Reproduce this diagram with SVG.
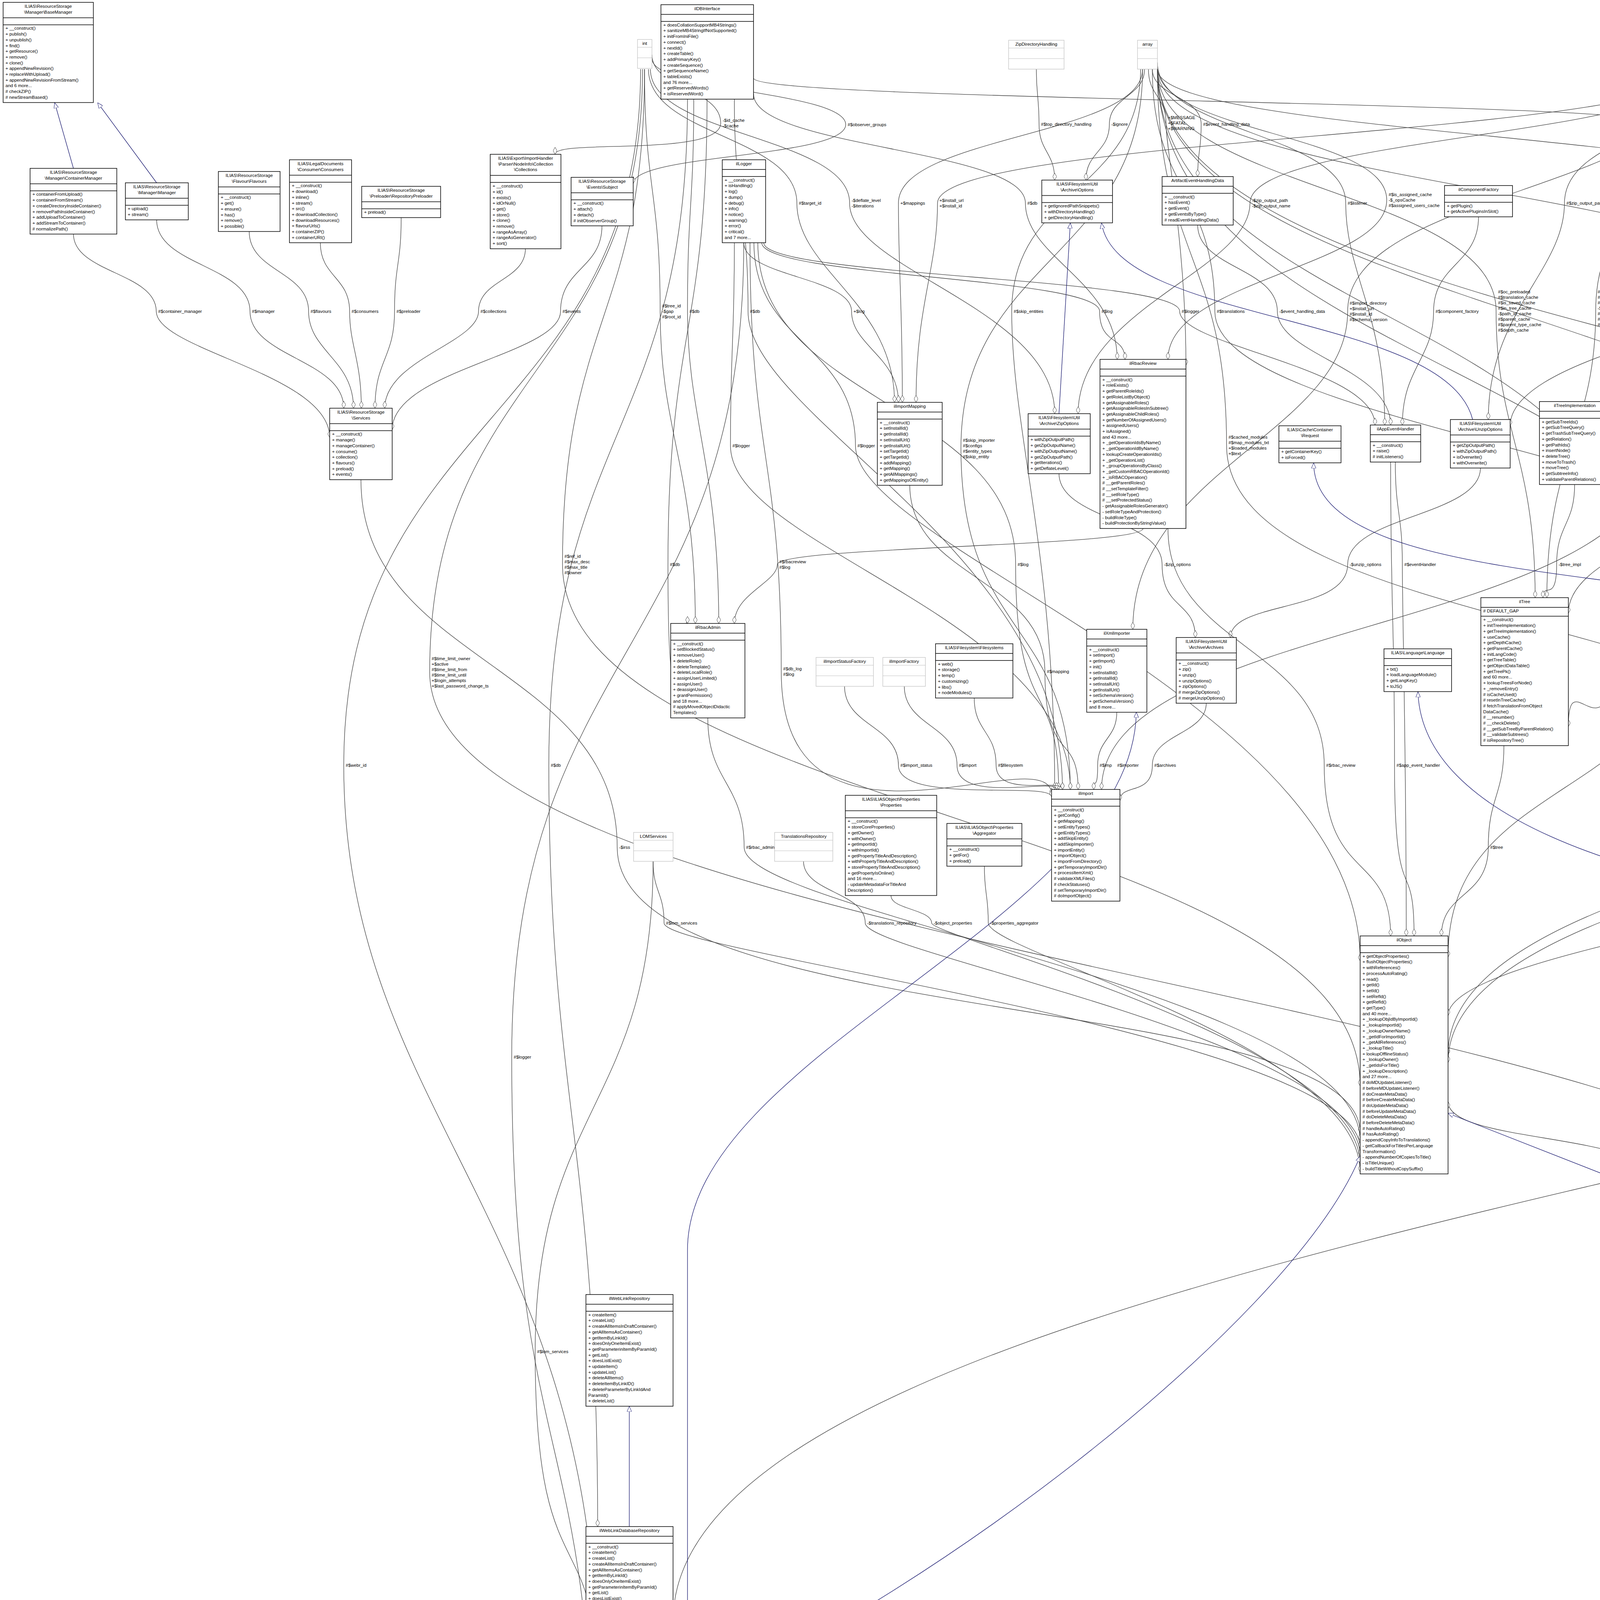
<svg xmlns="http://www.w3.org/2000/svg" width="7017" height="4623" viewBox="0 0 7017 4623">
<style>
text{font-family:"Liberation Sans",Arial,sans-serif;font-size:11.5px;fill:#000}
.c{text-anchor:middle}
.n rect{fill:#fff;stroke:#000;stroke-width:1.5}
.n path{stroke:#000;stroke-width:1.5;fill:none}
.g rect{fill:#fff;stroke:#bfbfbf;stroke-width:1.2}
.g path{stroke:#bfbfbf;stroke-width:1.2;fill:none}
.hl rect{fill:#bfbfbf}
#edges path{fill:none;stroke:#404040;stroke-width:1.3;marker-end:url(#dia)}
#edges path.i{stroke:#191970;marker-end:url(#tri)}
#edges path.p{marker-end:none}
</style>
<defs>
<marker id="dia" viewBox="0 0 18 10" refX="18" refY="5" markerWidth="18" markerHeight="10" markerUnits="userSpaceOnUse" orient="auto"><path d="M0,5 L9,0 L18,5 L9,10 Z" fill="#fff" stroke="#404040" stroke-width="1"/></marker>
<marker id="tri" viewBox="0 0 14 12" refX="14" refY="6" markerWidth="14" markerHeight="12" markerUnits="userSpaceOnUse" orient="auto"><path d="M0,0 L14,6 L0,12 Z" fill="#fff" stroke="#191970" stroke-width="1"/></marker>
</defs>
<rect x="0" y="0" width="7017" height="4623" fill="#fff"/>

<g id="edges">
<path d="M188,599 C188,698 400,698 400,797 S844,958 844,1120"/>
<path d="M401,563 C401,680 640,680 640,797 S880,921 880,1045"/>
<path d="M638,593 C638,695 790,695 790,797 S905,921 905,1045"/>
<path d="M820,621 C820,709 895,709 895,797 S925,921 925,1045"/>
<path d="M1027,557 C1027,677 1010,677 1010,797 S960,921 960,1045"/>
<path d="M1345,637 C1345,717 1225,717 1225,797 S985,921 985,1045"/>
<path d="M1541,578 C1541,687 1435,687 1435,797 S1004,948 1004,1100"/>
<path d="M1650,177 C1650,487 1690,487 1690,797 S1780,1196 1780,1596"/>
<path d="M1776,254 C1776,525 1760,525 1760,797 S1840,1196 1840,1596"/>
<path d="M1880,254 C1880,525 1915,525 1915,797 S2720,1409 2720,2021"/>
<path d="M1904,621 C1904,709 2180,709 2180,797 S2300,913 2300,1030"/>
<path d="M1880,621 C1880,881 1870,881 1870,1141 S2740,1581 2740,2021"/>
<path d="M1930,621 C1930,881 2190,881 2190,1141 S3482,1800 3482,2460"/>
<path d="M1669,140 C1669,227 1845,227 1845,315 S1421,355 1421,395"/>
<path d="M1669,150 C1669,234 2165,234 2165,319 S1621,394 1621,470"/>
<path d="M1660,177 C1660,348 2040,348 2040,520 S2290,775 2290,1030"/>
<path d="M1665,177 C1665,348 2175,348 2175,520 S2700,789 2700,1059"/>
<path d="M2925,177 C2925,348 2300,348 2300,520 S2310,775 2310,1030"/>
<path d="M4335,177 C4335,348 2400,348 2400,520 S2345,775 2345,1030"/>
<path d="M2653,177 C2653,247 2660,247 2660,318 S2700,389 2700,461"/>
<path d="M2930,177 C2930,247 2840,247 2840,318 S2780,389 2780,461"/>
<path d="M2940,177 C2940,246 2985,246 2985,315 S3036,625 3036,935"/>
<path d="M2950,177 C2950,247 3075,247 3075,318 S3066,385 3066,452"/>
<path d="M1929,200 C1929,259 4255,259 4255,318 S4923,374 4923,430"/>
<path d="M1929,240 C1929,380 2625,380 2625,520 S2860,720 2860,920"/>
<path d="M4340,177 C4340,348 3200,348 3200,520 S2760,789 2760,1059"/>
<path d="M2963,160 C2963,340 3445,340 3445,520 S3545,804 3545,1088"/>
<path d="M2963,170 C2963,341 3550,341 3550,512 S2990,716 2990,920"/>
<path d="M4350,177 C4350,348 4005,348 4005,520 S3810,797 3810,1074"/>
<path d="M4370,177 C4370,348 4550,348 4550,520 S4960,771 4960,1023"/>
<path d="M2920,177 C2920,487 2590,487 2590,797 S2700,1409 2700,2021"/>
<path d="M1950,621 C1950,709 2815,709 2815,797 S2880,858 2880,920"/>
<path d="M1955,621 C1955,709 3020,709 3020,797 S3520,942 3520,1088"/>
<path d="M2950,177 C2950,487 3110,487 3110,797 S4690,1185 4690,1574"/>
<path d="M3066,576 C3066,686 3270,686 3270,797 S3560,942 3560,1088"/>
<path d="M4340,177 C4340,487 3450,487 3450,797 S2900,1204 2900,1611"/>
<path d="M3785,555 C3785,676 3670,676 3670,797 S3590,942 3590,1088"/>
<path d="M2963,177 C2963,486 3830,486 3830,796 S3930,1163 3930,1530"/>
<path d="M4355,177 C4355,486 4085,486 4085,796 S3960,1163 3960,1530"/>
<path d="M4365,177 C4365,487 4520,487 4520,797 S4700,1185 4700,1574"/>
<path d="M2925,177 C2925,662 2460,662 2460,1148 S2740,1584 2740,2021"/>
<path d="M2963,177 C2963,658 3140,658 3140,1140 S4650,1573 4650,2007"/>
<path d="M4345,177 C4345,658 4240,658 4240,1140 S2820,1580 2820,2021"/>
<path d="M4380,177 C4380,658 4500,658 4500,1140 S4700,1573 4700,2007"/>
<path d="M4382,150 C4382,234 4690,234 4690,318 S4950,670 4950,1023"/>
<path d="M4382,160 C4382,239 4815,239 4815,318 S4923,384 4923,450"/>
<path d="M5112,177 C5112,247 4930,247 4930,318 S4935,352 4935,387"/>
<path d="M4382,170 C4382,244 5100,244 5100,318 S5203,369 5203,420"/>
<path d="M6206,160 C6206,239 5200,239 5200,318 S5260,341 5260,365"/>
<path d="M6210,177 C6210,247 5340,247 5340,318 S5320,341 5320,365"/>
<path d="M5555,177 C5555,247 5545,247 5545,318 S5407,349 5407,380"/>
<path d="M6549,160 C6549,239 5700,239 5700,318 S5407,354 5407,390"/>
<path d="M6560,177 C6560,247 5870,247 5870,317 S5407,358 5407,400"/>
<path d="M6570,177 C6570,247 6385,247 6385,318 S6217,369 6217,420"/>
<path d="M6590,177 C6590,247 6705,247 6705,318 S6775,510 6775,702"/>
<path d="M2963,177 C2963,348 4660,348 4660,520 S5150,746 5150,972"/>
<path d="M4382,177 C4382,348 4790,348 4790,520 S5180,746 5180,972"/>
<path d="M6206,177 C6206,348 5480,348 5480,520 S3866,805 3866,1090"/>
<path d="M6549,177 C6549,348 5590,348 5590,520 S5323,760 5323,1000"/>
<path d="M6552,177 C6552,348 5820,348 5820,520 S5290,746 5290,972"/>
<path d="M2963,177 C2963,487 4640,487 4640,797 S4950,910 4950,1023"/>
<path d="M6000,637 C6000,717 4830,717 4830,797 S5230,884 5230,972"/>
<path d="M5000,644 C5000,720 4985,720 4985,797 S5000,910 5000,1023"/>
<path d="M5260,666 C5260,731 5135,731 5135,797 S5030,910 5030,1023"/>
<path d="M5030,644 C5030,720 5250,720 5250,797 S5250,884 5250,972"/>
<path d="M6100,637 C6100,717 5680,717 5680,797 S5300,884 5300,972"/>
<path d="M6215,177 C6215,487 5830,487 5830,797 S5323,948 5323,1100"/>
<path d="M6220,177 C6220,487 6135,487 6135,797 S4788,1438 4788,2080"/>
<path d="M6576,177 C6576,484 6400,484 6400,792 S4015,1181 4015,1570"/>
<path d="M4382,177 C4382,659 5490,659 5490,1141 S4788,1620 4788,2100"/>
<path d="M6230,177 C6230,659 6215,659 6215,1141 S4788,1630 4788,2120"/>
<path d="M1650,177 C1650,811 1440,811 1440,1445 S3482,2112 3482,2780"/>
<path d="M1810,254 C1810,849 1710,849 1710,1445 S1760,1520 1760,1596"/>
<path d="M2926,1353 C2926,1399 1990,1399 1990,1445 S1880,1520 1880,1596"/>
<path d="M1940,621 C1940,1033 2600,1033 2600,1445 S2710,1733 2710,2021"/>
<path d="M2711,1212 C2711,1328 2975,1328 2975,1445 S3060,1538 3060,1632"/>
<path d="M3790,1198 C3790,1321 3450,1321 3450,1445 S3150,1538 3150,1632"/>
<path d="M3572,1183 C3572,1314 3590,1314 3590,1445 S3600,1920 3600,2396"/>
<path d="M1920,621 C1920,1170 2000,1170 2000,1719 S2692,1877 2692,2035"/>
<path d="M2329,1242 C2329,1480 2675,1480 2675,1719 S2760,1870 2760,2021"/>
<path d="M1760,254 C1760,1106 1405,1106 1405,1959 S1530,2933 1530,3908"/>
<path d="M2162,1757 C2162,1858 2300,1858 2300,1959 S2692,1999 2692,2040"/>
<path d="M2315,1757 C2315,1858 2450,1858 2450,1959 S2705,1990 2705,2021"/>
<path d="M2494,1787 C2494,1873 2550,1873 2550,1959 S2720,1990 2720,2021"/>
<path d="M2859,1823 C2859,1891 2810,1891 2810,1959 S2800,1990 2800,2021"/>
<path d="M3088,1800 C3088,1879 2950,1879 2950,1959 S2867,2004 2867,2050"/>
<path d="M2990,1353 C2990,1656 3390,1656 3390,1959 S3560,2177 3560,2396"/>
<path d="M3560,1183 C3560,1571 3570,1571 3570,1959 S3620,2177 3620,2396"/>
<path d="M924,1228 C924,1698 1580,1698 1580,2169 S3482,2534 3482,2900"/>
<path d="M1812,1838 C1812,2003 1905,2003 1905,2169 S3482,2544 3482,2920"/>
<path d="M1672,2205 C1672,2284 1700,2284 1700,2363 S3482,2651 3482,2940"/>
<path d="M2057,2205 C2057,2284 2215,2284 2215,2363 S3482,2661 3482,2960"/>
<path d="M2281,2293 C2281,2328 2385,2328 2385,2363 S3482,2671 3482,2980"/>
<path d="M2520,2217 C2520,2290 2530,2290 2530,2363 S3482,2681 3482,3000"/>
<path d="M4031,1241 C4031,1343 3985,1343 3985,1445 S3950,1487 3950,1530"/>
<path d="M2963,177 C2963,811 4150,811 4150,1445 S4015,1652 4015,1860"/>
<path d="M4355,177 C4355,811 4365,811 4365,1445 S3707,1947 3707,2450"/>
<path d="M2963,177 C2963,811 4860,811 4860,1445 S4730,1509 4730,1574"/>
<path d="M2963,177 C2963,948 4470,948 4470,1720 S5030,2399 5030,3079"/>
<path d="M5200,1317 C5200,1518 4845,1518 4845,1720 S4788,1935 4788,2150"/>
<path d="M4982,1255 C4982,1487 4975,1487 4975,1720 S5060,2399 5060,3079"/>
<path d="M4370,177 C4370,948 5090,948 5090,1720 S5090,2399 5090,3079"/>
<path d="M5300,666 C5300,1193 5590,1193 5590,1720 S5159,2460 5159,3200"/>
<path d="M4711,1860 C4711,1909 4720,1909 4720,1959 S4712,1983 4712,2007"/>
<path d="M4990,1255 C4990,1607 5220,1607 5220,1959 S4788,2079 4788,2200"/>
<path d="M3850,1909 C3850,2039 3810,2039 3810,2169 S3690,2282 3690,2396"/>
<path d="M4660,2322 C4660,2342 4320,2342 4320,2363 S3707,2481 3707,2600"/>
<path d="M4382,177 C4382,1173 5725,1173 5725,2169 S5159,2734 5159,3300"/>
<path d="M4957,3350 C4957,3198 4260,3198 4260,3046 S3707,2933 3707,2820"/>
<path d="M6184,2742 C6184,2894 6150,2894 6150,3046 S5159,3188 5159,3330"/>
<path d="M2963,177 C2963,949 6130,949 6130,1721 S5159,2520 5159,3320"/>
<path d="M6215,177 C6215,949 6400,949 6400,1721 S5159,2525 5159,3330"/>
<path d="M6590,177 C6590,949 6650,949 6650,1721 S5159,2530 5159,3340"/>
<path d="M6225,177 C6225,811 6255,811 6255,1446 S3707,2073 3707,2700"/>
<path d="M6580,177 C6580,811 6520,811 6520,1446 S3707,2083 3707,2720"/>
<path d="M6775,885 C6775,1422 6780,1422 6780,1959 S5159,2659 5159,3360"/>
<path d="M6600,177 C6600,1068 6920,1068 6920,1959 S1723,3054 1723,4150"/>
<path d="M1645,177 C1645,949 1100,949 1100,1721 S4957,2545 4957,3370"/>
<path d="M1640,177 C1640,1068 880,1068 880,1959 S1529,3129 1529,4300"/>
<path d="M1904,621 C1904,1663 1310,1663 1310,2706 S1517,3653 1517,4600"/>
<path d="M1672,2205 C1672,2832 1370,2832 1370,3460 S1529,3890 1529,4320"/>
<path d="M1611,4209 L1611,4282"/>
<path d="M1611,4450 L1611,4525"/>
<path class="i" d="M1611,3908 L1611,3600"/>
<path class="i" d="M4957,3340 L3707,2850"/>
<path class="i" d="M1694,4380 C2300,4150 3300,3400 3482,2960"/>
<path class="i" d="M1680,4525 C1760,4470 1760,4420 1760,4300 L1760,3200 C1760,2700 2900,2350 2909,1823"/>
<path class="i" d="M4610,2310 C4200,2250 3640,2100 3630,1771"/>
<path class="i" d="M4643,1590 C4300,1450 3363,1500 3363,1185"/>
<path class="i" d="M2711,1059 L2740,571"/>
<path class="i" d="M3770,1074 C3700,800 2860,830 2820,571"/>
<path class="i" d="M4990,387 C4990,320 4870,300 4860,224"/>
<path class="i" d="M188,431 L140,263"/>
<path class="i" d="M401,468 L250,263"/>
</g>

<g id="edge-labels">
<text x="405" y="801">#$container_manager</text>
<text x="645" y="801">#$manager</text>
<text x="795" y="801">#$flavours</text>
<text x="900" y="801">#$consumers</text>
<text x="1015" y="801">#$preloader</text>
<text x="1230" y="801">#$collections</text>
<text x="1440" y="801">#$events</text>
<text x="1695" y="787"><tspan x="1695" dy="0">#$tree_id</tspan><tspan x="1695" dy="14">-$gap</tspan><tspan x="1695" dy="14">#$root_id</tspan></text>
<text x="1765" y="801">#$db</text>
<text x="1920" y="801">#$db</text>
<text x="2185" y="801">+$log</text>
<text x="1875" y="1145">#$logger</text>
<text x="2195" y="1145">#$logger</text>
<text x="1850" y="312"><tspan x="1850" dy="0">-$id_cache</tspan><tspan x="1850" dy="14">-$cache</tspan></text>
<text x="2170" y="323">#$observer_groups</text>
<text x="2045" y="524">#$target_id</text>
<text x="2180" y="517"><tspan x="2180" dy="0">-$deflate_level</tspan><tspan x="2180" dy="14">-$iterations</tspan></text>
<text x="2305" y="524">+$mappings</text>
<text x="2405" y="517"><tspan x="2405" dy="0">+$install_url</tspan><tspan x="2405" dy="14">+$install_id</tspan></text>
<text x="2665" y="322">#$top_directory_handling</text>
<text x="2845" y="322">-$ignore</text>
<text x="2990" y="305"><tspan x="2990" dy="0">+$MESSAGE</tspan><tspan x="2990" dy="14">+$FATAL</tspan><tspan x="2990" dy="14">+$WARNING</tspan></text>
<text x="3080" y="322">#$event_handling_data</text>
<text x="4260" y="322">#$db</text>
<text x="2630" y="524">#$db</text>
<text x="3205" y="517"><tspan x="3205" dy="0">-$zip_output_path</tspan><tspan x="3205" dy="14">-$zip_output_name</tspan></text>
<text x="3450" y="524">#$listener</text>
<text x="3555" y="502"><tspan x="3555" dy="0">#$is_assigned_cache</tspan><tspan x="3555" dy="14">-$_opsCache</tspan><tspan x="3555" dy="14">#$assigned_users_cache</tspan></text>
<text x="4010" y="524">#$zip_output_path</text>
<text x="4555" y="517"><tspan x="4555" dy="0">+$INI_FILE</tspan><tspan x="4555" dy="14">+$client_id</tspan></text>
<text x="2595" y="801">#$skip_entities</text>
<text x="2820" y="801">#$log</text>
<text x="3025" y="801">#$logger</text>
<text x="3115" y="801">#$translations</text>
<text x="3275" y="801">-$event_handling_data</text>
<text x="3455" y="780"><tspan x="3455" dy="0">#$import_directory</tspan><tspan x="3455" dy="14">+$install_url</tspan><tspan x="3455" dy="14">#$install_id</tspan><tspan x="3455" dy="14">#$schema_version</tspan></text>
<text x="3675" y="801">#$component_factory</text>
<text x="3835" y="751"><tspan x="3835" dy="0">#$oc_preloaded</tspan><tspan x="3835" dy="14">#$translation_cache</tspan><tspan x="3835" dy="14">#$is_saved_cache</tspan><tspan x="3835" dy="14">#$in_tree_cache</tspan><tspan x="3835" dy="14">-$path_id_cache</tspan><tspan x="3835" dy="14">#$parent_cache</tspan><tspan x="3835" dy="14">#$parent_type_cache</tspan><tspan x="3835" dy="14">#$depth_cache</tspan></text>
<text x="4090" y="751"><tspan x="4090" dy="0">#$table_obj_data</tspan><tspan x="4090" dy="14">#$tree_pk</tspan><tspan x="4090" dy="14">#$table_obj_reference</tspan><tspan x="4090" dy="14">-$lang_code</tspan><tspan x="4090" dy="14">#$obj_pk</tspan><tspan x="4090" dy="14">#$ref_pk</tspan><tspan x="4090" dy="14">#$table_tree</tspan></text>
<text x="4525" y="801">#$language_key</text>
<text x="2465" y="1131"><tspan x="2465" dy="0">#$skip_importer</tspan><tspan x="2465" dy="14">#$configs</tspan><tspan x="2465" dy="14">#$entity_types</tspan><tspan x="2465" dy="14">#$skip_entity</tspan></text>
<text x="3145" y="1123"><tspan x="3145" dy="0">#$cached_modules</tspan><tspan x="3145" dy="14">#$map_modules_txt</tspan><tspan x="3145" dy="14">+$loaded_modules</tspan><tspan x="3145" dy="14">+$text</tspan></text>
<text x="4245" y="1123"><tspan x="4245" dy="0">#$entities</tspan><tspan x="4245" dy="14">#$current_comp</tspan><tspan x="4245" dy="14">#$tmp_import_dir</tspan><tspan x="4245" dy="14">#$comp</tspan></text>
<text x="4505" y="1095"><tspan x="4505" dy="0">+$lang_name</tspan><tspan x="4505" dy="14">+$lang_user</tspan><tspan x="4505" dy="14">+$lang_path</tspan><tspan x="4505" dy="14">#$cust_lang_path</tspan><tspan x="4505" dy="14">+$separator</tspan><tspan x="4505" dy="14">+$comment_separator</tspan><tspan x="4505" dy="14">+$lang_key</tspan><tspan x="4505" dy="14">+$lang_default</tspan></text>
<text x="4695" y="322">+$setting</text>
<text x="4820" y="322">+$module</text>
<text x="4935" y="315"><tspan x="4935" dy="0">-$settings_cache</tspan><tspan x="4935" dy="14">-$value_type</tspan></text>
<text x="5105" y="322">#$message</text>
<text x="5205" y="322">#$cache_disabled</text>
<text x="5345" y="322">#$whoops_handlers_registered</text>
<text x="5550" y="322">#$whoops</text>
<text x="5705" y="322">#$DEBUG_ENV</text>
<text x="5875" y="314"><tspan x="5875" dy="0">-SENSITIVE_PARAMETER</tspan><tspan x="5875" dy="14">_NAMES</tspan></text>
<text x="6390" y="322">+PLUGIN_BASE_PATH</text>
<text x="6710" y="322">+TABLE_NAME</text>
<text x="4665" y="510"><tspan x="4665" dy="0">#$obj_data</tspan><tspan x="4665" dy="14">#$obj_group</tspan><tspan x="4665" dy="14">#$sub_types</tspan></text>
<text x="4795" y="503"><tspan x="4795" dy="0">#$parent_tag_name</tspan><tspan x="4795" dy="14">#$current_tag_name</tspan><tspan x="4795" dy="14">#$current_tag</tspan><tspan x="4795" dy="14">#$root_trans_type</tspan></text>
<text x="5485" y="517"><tspan x="5485" dy="0">-$overwrite</tspan><tspan x="5485" dy="14">-$flat</tspan></text>
<text x="5595" y="489"><tspan x="5595" dy="0">+FILTER_NOT_INTERNAL</tspan><tspan x="5595" dy="14">+FILTER_ALL_GLOBAL</tspan><tspan x="5595" dy="14">+FILTER_ALL</tspan><tspan x="5595" dy="14">+FILTER_INTERNAL</tspan><tspan x="5595" dy="14">+FILTER_TEMPLATES</tspan><tspan x="5595" dy="14">+FILTER_ALL_LOCAL</tspan></text>
<text x="5825" y="510"><tspan x="5825" dy="0">+MODE_REPOSITORY</tspan><tspan x="5825" dy="14">+MODE_ADMINISTRATION</tspan><tspan x="5825" dy="14">+MODE_WORKSPACE</tspan></text>
<text x="4645" y="801">#$instances</text>
<text x="4835" y="801">#$component_repository</text>
<text x="4990" y="801">#$setting</text>
<text x="5140" y="801">#$error</text>
<text x="5255" y="801">#$settings</text>
<text x="5685" y="801">#$component_repository</text>
<text x="5835" y="801">#$use_cache</text>
<text x="6140" y="801">#$loaded</text>
<text x="6405" y="726"><tspan x="6405" dy="0">+TREE_TYPE_NESTED_SET</tspan><tspan x="6405" dy="14">+RELATION_PARENT</tspan><tspan x="6405" dy="14">+RELATION_CHILD</tspan><tspan x="6405" dy="14">+TREE_TYPE_MATERIALIZED</tspan><tspan x="6405" dy="14">_PATH</tspan><tspan x="6405" dy="14">#DEFAULT_LANGUAGE</tspan><tspan x="6405" dy="14">+RELATION_SIBLING</tspan><tspan x="6405" dy="14">+POS_FIRST_NODE</tspan><tspan x="6405" dy="14">+RELATION_EQUALS</tspan><tspan x="6405" dy="14">+POS_LAST_NODE</tspan><tspan x="6405" dy="14">+RELATION_NONE</tspan><tspan x="6405" dy="14">...</tspan></text>
<text x="5495" y="1131"><tspan x="5495" dy="0">#$lng_log</tspan><tspan x="5495" dy="14">#$used_modules</tspan><tspan x="5495" dy="14">#$used_topics</tspan></text>
<text x="6220" y="1145">#$usage_log_enabled</text>
<text x="1445" y="1428"><tspan x="1445" dy="0">#$ref_id</tspan><tspan x="1445" dy="14">#$max_desc</tspan><tspan x="1445" dy="14">#$max_title</tspan><tspan x="1445" dy="14">#$owner</tspan></text>
<text x="1715" y="1449">#$db</text>
<text x="1995" y="1442"><tspan x="1995" dy="0">#$rbacreview</tspan><tspan x="1995" dy="14">#$log</tspan></text>
<text x="2605" y="1449">#$log</text>
<text x="2980" y="1449">-$zip_options</text>
<text x="3455" y="1449">-$unzip_options</text>
<text x="3595" y="1449">#$eventHandler</text>
<text x="2005" y="1716"><tspan x="2005" dy="0">#$db_log</tspan><tspan x="2005" dy="14">#$log</tspan></text>
<text x="2680" y="1723">#$mapping</text>
<text x="1410" y="1963">#$db</text>
<text x="2305" y="1963">#$import_status</text>
<text x="2455" y="1963">#$import</text>
<text x="2555" y="1963">#$filesystem</text>
<text x="2815" y="1963">#$imp</text>
<text x="2860" y="1963">#$importer</text>
<text x="2955" y="1963">#$archives</text>
<text x="3395" y="1963">#$rbac_review</text>
<text x="3575" y="1963">#$app_event_handler</text>
<text x="1585" y="2173">-$irss</text>
<text x="1910" y="2173">#$rbac_admin</text>
<text x="1705" y="2367">#$lom_services</text>
<text x="2220" y="2367">-$translations_repository</text>
<text x="2390" y="2367">-$object_properties</text>
<text x="2535" y="2367">-$properties_aggregator</text>
<text x="3990" y="1449">-$tree_impl</text>
<text x="4155" y="1449">+$objectList</text>
<text x="4370" y="1400"><tspan x="4370" dy="0">#$create_date</tspan><tspan x="4370" dy="14">#$desc</tspan><tspan x="4370" dy="14">#$title</tspan><tspan x="4370" dy="14">#$long_desc</tspan><tspan x="4370" dy="14">#$import_id</tspan><tspan x="4370" dy="14">+$untranslatedTitle</tspan><tspan x="4370" dy="14">#$type</tspan><tspan x="4370" dy="14">#$last_update</tspan></text>
<text x="4865" y="1449">#$language_cache</text>
<text x="4475" y="1682"><tspan x="4475" dy="0">+$prefs</tspan><tspan x="4475" dy="14">+$user_defined_data</tspan><tspan x="4475" dy="14">#$interests_help</tspan><tspan x="4475" dy="14">_offered</tspan><tspan x="4475" dy="14">#$interests_general</tspan><tspan x="4475" dy="14">#$oldPrefs</tspan><tspan x="4475" dy="14">#$interests_help</tspan><tspan x="4475" dy="14">_looking</tspan></text>
<text x="4850" y="1724">#$objDefinition</text>
<text x="4980" y="1724">+$ilias</text>
<text x="5095" y="1654"><tspan x="5095" dy="0">#$ext_account</tspan><tspan x="5095" dy="14">+$email</tspan><tspan x="5095" dy="14">+$phone_office</tspan><tspan x="5095" dy="14">+$institution</tspan><tspan x="5095" dy="14">#$first_login</tspan><tspan x="5095" dy="14">+$longitude</tspan><tspan x="5095" dy="14">+$hobby</tspan><tspan x="5095" dy="14">+$zipcode</tspan><tspan x="5095" dy="14">#$passwd_type</tspan><tspan x="5095" dy="14">+$referral_comment</tspan><tspan x="5095" dy="14">...</tspan></text>
<text x="5595" y="1724">#$error</text>
<text x="4725" y="1963">#$global_cache</text>
<text x="5225" y="1956"><tspan x="5225" dy="0">#$ilias</tspan><tspan x="5225" dy="14">#$obj_definition</tspan></text>
<text x="3815" y="2173">#$tree</text>
<text x="4325" y="2367">#$lng</text>
<text x="5730" y="2173">#$delivery</text>
<text x="4265" y="3050">#$user</text>
<text x="6155" y="3050">+$date_format_factory</text>
<text x="6135" y="1725">#$personal_image_cache</text>
<text x="6405" y="1704"><tspan x="6405" dy="0">#$profile_incomplete</tspan><tspan x="6405" dy="14">#$passwd_policy_reset</tspan><tspan x="6405" dy="14">#$time_limit_unlimited</tspan><tspan x="6405" dy="14">-$is_self_registered</tspan></text>
<text x="6655" y="1711"><tspan x="6655" dy="0">+PASSWD_CRYPTED</tspan><tspan x="6655" dy="14">+NO_AVATAR_RID</tspan><tspan x="6655" dy="14">+PASSWD_PLAIN</tspan></text>
<text x="6260" y="1429"><tspan x="6260" dy="0">#$register</tspan><tspan x="6260" dy="14">#$call_by_reference</tspan><tspan x="6260" dy="14">-$process_auto_reating</tspan><tspan x="6260" dy="14">#$add_dots</tspan></text>
<text x="6525" y="1429"><tspan x="6525" dy="0">+TABLE_OBJECT_DATA</tspan><tspan x="6525" dy="14">+LONG_DESC_LENGTH</tspan><tspan x="6525" dy="14">+TITLE_LENGTH</tspan><tspan x="6525" dy="14">+DESC_LENGTH</tspan></text>
<text x="6785" y="1956"><tspan x="6785" dy="0">-$cron_delete_user</tspan><tspan x="6785" dy="14">_reminder_mail</tspan></text>
<text x="6870" y="1949"><tspan x="6870" dy="0">+PARAMS_TABLE</tspan><tspan x="6870" dy="14">+ITEMS_TABLE</tspan><tspan x="6870" dy="14">+LISTS_TABLE</tspan></text>
<text x="1105" y="1690"><tspan x="1105" dy="0">#$time_limit_owner</tspan><tspan x="1105" dy="14">+$active</tspan><tspan x="1105" dy="14">#$time_limit_from</tspan><tspan x="1105" dy="14">#$time_limit_until</tspan><tspan x="1105" dy="14">+$login_attempts</tspan><tspan x="1105" dy="14">+$last_password_change_ts</tspan></text>
<text x="885" y="1963">#$webr_id</text>
<text x="1315" y="2710">#$logger</text>
<text x="1375" y="3464">#$lom_services</text>
<text x="1617" y="4253">#$repo</text>
<text x="1617" y="4495">#$link</text>
</g>

<g id="int" class="g"><rect x="1632" y="101" width="37" height="74"/><path d="M1632,121 h37 M1632,148 h37"/><text class="c" x="1650.5" y="115">int</text></g>
<g id="array" class="g"><rect x="2912" y="103" width="51" height="74"/><path d="M2912,123 h51 M2912,150 h51"/><text class="c" x="2937.5" y="117">array</text></g>
<g id="string" class="g"><rect x="4329" y="103" width="53" height="74"/><path d="M4329,123 h53 M4329,150 h53"/><text class="c" x="4355.5" y="117">string</text></g>
<g id="static" class="g"><rect x="5112" y="103" width="53" height="74"/><path d="M5112,123 h53 M5112,150 h53"/><text class="c" x="5138.5" y="117">static</text></g>
<g id="RunInterface" class="g"><rect x="5507" y="103" width="97" height="74"/><path d="M5507,123 h97 M5507,150 h97"/><text class="c" x="5555.5" y="117">RunInterface</text></g>
<g id="bool" class="g"><rect x="6206" y="103" width="45" height="74"/><path d="M6206,123 h45 M6206,150 h45"/><text class="c" x="6228.5" y="117">bool</text></g>
<g id="const" class="g"><rect x="6549" y="103" width="54" height="74"/><path d="M6549,123 h54 M6549,150 h54"/><text class="c" x="6576" y="117">const</text></g>
<g id="ZipDirectoryHandling" class="g"><rect x="2582" y="103" width="142" height="74"/><path d="M2582,123 h142 M2582,150 h142"/><text class="c" x="2653" y="117">ZipDirectoryHandling</text></g>
<g id="ilImportStatusFactory" class="g"><rect x="2089" y="1683" width="147" height="74"/><path d="M2089,1703 h147 M2089,1730 h147"/><text class="c" x="2162.5" y="1697">ilImportStatusFactory</text></g>
<g id="ilImportFactory" class="g"><rect x="2260" y="1683" width="109" height="74"/><path d="M2260,1703 h109 M2260,1730 h109"/><text class="c" x="2314.5" y="1697">ilImportFactory</text></g>
<g id="LOMServices" class="g"><rect x="1622" y="2131" width="101" height="74"/><path d="M1622,2151 h101 M1622,2178 h101"/><text class="c" x="1672.5" y="2145">LOMServices</text></g>
<g id="TranslationsRepository" class="g"><rect x="1983" y="2131" width="149" height="74"/><path d="M1983,2151 h149 M1983,2178 h149"/><text class="c" x="2057.5" y="2145">TranslationsRepository</text></g>
<g id="DateFormatFactory" class="g"><rect x="6116" y="2668" width="136" height="74"/><path d="M6116,2688 h136 M6116,2715 h136"/><text class="c" x="6184" y="2682">DateFormatFactory</text></g>

<g id="BaseManager" class="n"><rect x="8" y="6" width="231" height="256.5"/><path d="M8,45.4 h231 M8,63.4 h231"/><text class="c" x="123.5" y="20"><tspan x="123.5" dy="0">ILIAS\ResourceStorage</tspan><tspan x="123.5" dy="14.7">\Manager\BaseManager</tspan></text><text x="14" y="76.4"><tspan x="14" dy="0">+ __construct()</tspan><tspan x="14" dy="14.7">+ publish()</tspan><tspan x="14" dy="14.7">+ unpublish()</tspan><tspan x="14" dy="14.7">+ find()</tspan><tspan x="14" dy="14.7">+ getResource()</tspan><tspan x="14" dy="14.7">+ remove()</tspan><tspan x="14" dy="14.7">+ clone()</tspan><tspan x="14" dy="14.7">+ appendNewRevision()</tspan><tspan x="14" dy="14.7">+ replaceWithUpload()</tspan><tspan x="14" dy="14.7">+ appendNewRevisionFromStream()</tspan><tspan x="14" dy="14.7">and 6 more...</tspan><tspan x="14" dy="14.7"># checkZIP()</tspan><tspan x="14" dy="14.7"># newStreamBased()</tspan></text></g>

<g id="ContainerManager" class="n"><rect x="77" y="431" width="222" height="168.3"/><path d="M77,470.4 h222 M77,488.4 h222"/><text class="c" x="188" y="445"><tspan x="188" dy="0">ILIAS\ResourceStorage</tspan><tspan x="188" dy="14.7">\Manager\ContainerManager</tspan></text><text x="83" y="501.4"><tspan x="83" dy="0">+ containerFromUpload()</tspan><tspan x="83" dy="14.7">+ containerFromStream()</tspan><tspan x="83" dy="14.7">+ createDirectoryInsideContainer()</tspan><tspan x="83" dy="14.7">+ removePathInsideContainer()</tspan><tspan x="83" dy="14.7">+ addUploadToContainer()</tspan><tspan x="83" dy="14.7">+ addStreamToContainer()</tspan><tspan x="83" dy="14.7"># normalizePath()</tspan></text></g>

<g id="Manager" class="n"><rect x="321" y="468" width="161" height="94.8"/><path d="M321,507.4 h161 M321,525.4 h161"/><text class="c" x="401.5" y="482"><tspan x="401.5" dy="0">ILIAS\ResourceStorage</tspan><tspan x="401.5" dy="14.7">\Manager\Manager</tspan></text><text x="327" y="538.4"><tspan x="327" dy="0">+ upload()</tspan><tspan x="327" dy="14.7">+ stream()</tspan></text></g>

<g id="Flavours" class="n"><rect x="559" y="439" width="158" height="153.6"/><path d="M559,478.4 h158 M559,496.4 h158"/><text class="c" x="638" y="453"><tspan x="638" dy="0">ILIAS\ResourceStorage</tspan><tspan x="638" dy="14.7">\Flavour\Flavours</tspan></text><text x="565" y="509.4"><tspan x="565" dy="0">+ __construct()</tspan><tspan x="565" dy="14.7">+ get()</tspan><tspan x="565" dy="14.7">+ ensure()</tspan><tspan x="565" dy="14.7">+ has()</tspan><tspan x="565" dy="14.7">+ remove()</tspan><tspan x="565" dy="14.7">+ possible()</tspan></text></g>

<g id="Consumers" class="n"><rect x="741" y="409" width="159" height="212.4"/><path d="M741,448.4 h159 M741,466.4 h159"/><text class="c" x="820.5" y="423"><tspan x="820.5" dy="0">ILIAS\LegalDocuments</tspan><tspan x="820.5" dy="14.7">\Consumer\Consumers</tspan></text><text x="747" y="479.4"><tspan x="747" dy="0">+ __construct()</tspan><tspan x="747" dy="14.7">+ download()</tspan><tspan x="747" dy="14.7">+ inline()</tspan><tspan x="747" dy="14.7">+ stream()</tspan><tspan x="747" dy="14.7">+ src()</tspan><tspan x="747" dy="14.7">+ downloadCollection()</tspan><tspan x="747" dy="14.7">+ downloadResources()</tspan><tspan x="747" dy="14.7">+ flavourUrls()</tspan><tspan x="747" dy="14.7">+ containerZIP()</tspan><tspan x="747" dy="14.7">+ containerURI()</tspan></text></g>

<g id="RepositoryPreloader" class="n"><rect x="926" y="477" width="202" height="80.1"/><path d="M926,516.4 h202 M926,534.4 h202"/><text class="c" x="1027" y="491"><tspan x="1027" dy="0">ILIAS\ResourceStorage</tspan><tspan x="1027" dy="14.7">\Preloader\RepositoryPreloader</tspan></text><text x="932" y="547.4">+ preload()</text></g>

<g id="Collections" class="n"><rect x="1255" y="395" width="181" height="241.8"/><path d="M1255,449.1 h181 M1255,467.1 h181"/><text class="c" x="1345.5" y="409"><tspan x="1345.5" dy="0">ILIAS\Export\ImportHandler</tspan><tspan x="1345.5" dy="14.7">\Parser\NodeInfo\Collection</tspan><tspan x="1345.5" dy="14.7">\Collections</tspan></text><text x="1261" y="480.1"><tspan x="1261" dy="0">+ __construct()</tspan><tspan x="1261" dy="14.7">+ id()</tspan><tspan x="1261" dy="14.7">+ exists()</tspan><tspan x="1261" dy="14.7">+ idOrNull()</tspan><tspan x="1261" dy="14.7">+ get()</tspan><tspan x="1261" dy="14.7">+ store()</tspan><tspan x="1261" dy="14.7">+ clone()</tspan><tspan x="1261" dy="14.7">+ remove()</tspan><tspan x="1261" dy="14.7">+ rangeAsArray()</tspan><tspan x="1261" dy="14.7">+ rangeAsGenerator()</tspan><tspan x="1261" dy="14.7">+ sort()</tspan></text></g>

<g id="Subject" class="n"><rect x="1462" y="454" width="159" height="124.2"/><path d="M1462,493.4 h159 M1462,511.4 h159"/><text class="c" x="1541.5" y="468"><tspan x="1541.5" dy="0">ILIAS\ResourceStorage</tspan><tspan x="1541.5" dy="14.7">\Events\Subject</tspan></text><text x="1468" y="524.4"><tspan x="1468" dy="0">+ __construct()</tspan><tspan x="1468" dy="14.7">+ attach()</tspan><tspan x="1468" dy="14.7">+ detach()</tspan><tspan x="1468" dy="14.7"># initObserverGroup()</tspan></text></g>

<g id="ilDBInterface" class="n"><rect x="1692" y="12" width="237" height="241.8"/><path d="M1692,36.7 h237 M1692,54.7 h237"/><text class="c" x="1810.5" y="26">ilDBInterface</text><text x="1698" y="67.7"><tspan x="1698" dy="0">+ doesCollationSupportMB4Strings()</tspan><tspan x="1698" dy="14.7">+ sanitizeMB4StringIfNotSupported()</tspan><tspan x="1698" dy="14.7">+ initFromIniFile()</tspan><tspan x="1698" dy="14.7">+ connect()</tspan><tspan x="1698" dy="14.7">+ nextId()</tspan><tspan x="1698" dy="14.7">+ createTable()</tspan><tspan x="1698" dy="14.7">+ addPrimaryKey()</tspan><tspan x="1698" dy="14.7">+ createSequence()</tspan><tspan x="1698" dy="14.7">+ getSequenceName()</tspan><tspan x="1698" dy="14.7">+ tableExists()</tspan><tspan x="1698" dy="14.7">and 76 more...</tspan><tspan x="1698" dy="14.7">+ getReservedWords()</tspan><tspan x="1698" dy="14.7">+ isReservedWord()</tspan></text></g>

<g id="ilLogger" class="n"><rect x="1849" y="409" width="111" height="212.4"/><path d="M1849,433.7 h111 M1849,451.7 h111"/><text class="c" x="1904.5" y="423">ilLogger</text><text x="1855" y="464.7"><tspan x="1855" dy="0">+ __construct()</tspan><tspan x="1855" dy="14.7">+ isHandling()</tspan><tspan x="1855" dy="14.7">+ log()</tspan><tspan x="1855" dy="14.7">+ dump()</tspan><tspan x="1855" dy="14.7">+ debug()</tspan><tspan x="1855" dy="14.7">+ info()</tspan><tspan x="1855" dy="14.7">+ notice()</tspan><tspan x="1855" dy="14.7">+ warning()</tspan><tspan x="1855" dy="14.7">+ error()</tspan><tspan x="1855" dy="14.7">+ critical()</tspan><tspan x="1855" dy="14.7">and 7 more...</tspan></text></g>

<g id="Services" class="n"><rect x="844" y="1045" width="160" height="183"/><path d="M844,1084.4 h160 M844,1102.4 h160"/><text class="c" x="924" y="1059"><tspan x="924" dy="0">ILIAS\ResourceStorage</tspan><tspan x="924" dy="14.7">\Services</tspan></text><text x="850" y="1115.4"><tspan x="850" dy="0">+ __construct()</tspan><tspan x="850" dy="14.7">+ manage()</tspan><tspan x="850" dy="14.7">+ manageContainer()</tspan><tspan x="850" dy="14.7">+ consume()</tspan><tspan x="850" dy="14.7">+ collection()</tspan><tspan x="850" dy="14.7">+ flavours()</tspan><tspan x="850" dy="14.7">+ preload()</tspan><tspan x="850" dy="14.7">+ events()</tspan></text></g>

<g id="ilImportMapping" class="n"><rect x="2246" y="1030" width="166" height="212.4"/><path d="M2246,1054.7 h166 M2246,1072.7 h166"/><text class="c" x="2329" y="1044">ilImportMapping</text><text x="2252" y="1085.7"><tspan x="2252" dy="0">+ __construct()</tspan><tspan x="2252" dy="14.7">+ setInstallId()</tspan><tspan x="2252" dy="14.7">+ getInstallId()</tspan><tspan x="2252" dy="14.7">+ setInstallUrl()</tspan><tspan x="2252" dy="14.7">+ getInstallUrl()</tspan><tspan x="2252" dy="14.7">+ setTargetId()</tspan><tspan x="2252" dy="14.7">+ getTargetId()</tspan><tspan x="2252" dy="14.7">+ addMapping()</tspan><tspan x="2252" dy="14.7">+ getMapping()</tspan><tspan x="2252" dy="14.7">+ getAllMappings()</tspan><tspan x="2252" dy="14.7">+ getMappingsOfEntity()</tspan></text></g>

<g id="ArchiveOptions" class="n"><rect x="2667" y="461" width="181" height="109.5"/><path d="M2667,500.4 h181 M2667,518.4 h181"/><text class="c" x="2757.5" y="475"><tspan x="2757.5" dy="0">ILIAS\Filesystem\Util</tspan><tspan x="2757.5" dy="14.7">\Archive\Options</tspan></text><text x="2673" y="531.4"><tspan x="2673" dy="0">+ getIgnoredPathSnippets()</tspan><tspan x="2673" dy="14.7">+ withDirectoryHandling()</tspan><tspan x="2673" dy="14.7">+ getDirectoryHandling()</tspan></text></g>

<g id="ArtifactEventHandlingData" class="n"><rect x="2975" y="452" width="182" height="124.2"/><path d="M2975,476.7 h182 M2975,494.7 h182"/><text class="c" x="3066" y="466">ArtifactEventHandlingData</text><text x="2981" y="507.7"><tspan x="2981" dy="0">+ __construct()</tspan><tspan x="2981" dy="14.7">+ hasEvent()</tspan><tspan x="2981" dy="14.7">+ getEvent()</tspan><tspan x="2981" dy="14.7">+ getEventsByType()</tspan><tspan x="2981" dy="14.7"># readEventHandlingData()</tspan></text></g>

<g id="ilComponentFactory" class="n"><rect x="3698" y="475" width="174" height="80.1"/><path d="M3698,499.7 h174 M3698,517.7 h174"/><text class="c" x="3785" y="489">ilComponentFactory</text><text x="3704" y="530.7"><tspan x="3704" dy="0">+ getPlugin()</tspan><tspan x="3704" dy="14.7">+ getActivePluginsInSlot()</tspan></text></g>

<g id="ilRbacReview" class="n"><rect x="2816" y="920" width="220" height="432.9"/><path d="M2816,944.7 h220 M2816,962.7 h220"/><text class="c" x="2926" y="934">ilRbacReview</text><text x="2822" y="975.7"><tspan x="2822" dy="0">+ __construct()</tspan><tspan x="2822" dy="14.7">+ roleExists()</tspan><tspan x="2822" dy="14.7">+ getParentRoleIds()</tspan><tspan x="2822" dy="14.7">+ getRoleListByObject()</tspan><tspan x="2822" dy="14.7">+ getAssignableRoles()</tspan><tspan x="2822" dy="14.7">+ getAssignableRolesInSubtree()</tspan><tspan x="2822" dy="14.7">+ getAssignableChildRoles()</tspan><tspan x="2822" dy="14.7">+ getNumberOfAssignedUsers()</tspan><tspan x="2822" dy="14.7">+ assignedUsers()</tspan><tspan x="2822" dy="14.7">+ isAssigned()</tspan><tspan x="2822" dy="14.7">and 43 more...</tspan><tspan x="2822" dy="14.7">+ _getOperationIdsByName()</tspan><tspan x="2822" dy="14.7">+ _getOperationIdByName()</tspan><tspan x="2822" dy="14.7">+ lookupCreateOperationIds()</tspan><tspan x="2822" dy="14.7">+ _getOperationList()</tspan><tspan x="2822" dy="14.7">+ _groupOperationsByClass()</tspan><tspan x="2822" dy="14.7">+ _getCustomRBACOperationId()</tspan><tspan x="2822" dy="14.7">+ _isRBACOperation()</tspan><tspan x="2822" dy="14.7"># __getParentRoles()</tspan><tspan x="2822" dy="14.7"># __setTemplateFilter()</tspan><tspan x="2822" dy="14.7"># __setRoleType()</tspan><tspan x="2822" dy="14.7"># __setProtectedStatus()</tspan><tspan x="2822" dy="14.7">- getAssignableRolesGenerator()</tspan><tspan x="2822" dy="14.7">- setRoleTypeAndProtection()</tspan><tspan x="2822" dy="14.7">- buildRoleType()</tspan><tspan x="2822" dy="14.7">- buildProtectionByStringValue()</tspan></text></g>

<g id="ZipOptions" class="n"><rect x="2632" y="1059" width="159" height="153.6"/><path d="M2632,1098.4 h159 M2632,1116.4 h159"/><text class="c" x="2711.5" y="1073"><tspan x="2711.5" dy="0">ILIAS\Filesystem\Util</tspan><tspan x="2711.5" dy="14.7">\Archive\ZipOptions</tspan></text><text x="2638" y="1129.4"><tspan x="2638" dy="0">+ withZipOutputPath()</tspan><tspan x="2638" dy="14.7">+ getZipOutputName()</tspan><tspan x="2638" dy="14.7">+ withZipOutputName()</tspan><tspan x="2638" dy="14.7">+ getZipOutputPath()</tspan><tspan x="2638" dy="14.7">+ getIterations()</tspan><tspan x="2638" dy="14.7">+ getDeflateLevel()</tspan></text></g>

<g id="Request" class="n"><rect x="3274" y="1090" width="159" height="94.8"/><path d="M3274,1129.4 h159 M3274,1147.4 h159"/><text class="c" x="3353.5" y="1104"><tspan x="3353.5" dy="0">ILIAS\Cache\Container</tspan><tspan x="3353.5" dy="14.7">\Request</tspan></text><text x="3280" y="1160.4"><tspan x="3280" dy="0">+ getContainerKey()</tspan><tspan x="3280" dy="14.7">+ isForced()</tspan></text></g>

<g id="ilAppEventHandler" class="n"><rect x="3508" y="1088" width="129" height="94.8"/><path d="M3508,1112.7 h129 M3508,1130.7 h129"/><text class="c" x="3572.5" y="1102">ilAppEventHandler</text><text x="3514" y="1143.7"><tspan x="3514" dy="0">+ __construct()</tspan><tspan x="3514" dy="14.7">+ raise()</tspan><tspan x="3514" dy="14.7"># initListeners()</tspan></text></g>

<g id="UnzipOptions" class="n"><rect x="3713" y="1074" width="153" height="124.2"/><path d="M3713,1113.4 h153 M3713,1131.4 h153"/><text class="c" x="3789.5" y="1088"><tspan x="3789.5" dy="0">ILIAS\Filesystem\Util</tspan><tspan x="3789.5" dy="14.7">\Archive\UnzipOptions</tspan></text><text x="3719" y="1144.4"><tspan x="3719" dy="0">+ getZipOutputPath()</tspan><tspan x="3719" dy="14.7">+ withZipOutputPath()</tspan><tspan x="3719" dy="14.7">+ isOverwrite()</tspan><tspan x="3719" dy="14.7">+ withOverwrite()</tspan></text></g>

<g id="ilTreeImplementation" class="n"><rect x="3941" y="1028" width="181" height="212.4"/><path d="M3941,1052.7 h181 M3941,1070.7 h181"/><text class="c" x="4031.5" y="1042">ilTreeImplementation</text><text x="3947" y="1083.7"><tspan x="3947" dy="0">+ getSubTreeIds()</tspan><tspan x="3947" dy="14.7">+ getSubTreeQuery()</tspan><tspan x="3947" dy="14.7">+ getTrashSubTreeQuery()</tspan><tspan x="3947" dy="14.7">+ getRelation()</tspan><tspan x="3947" dy="14.7">+ getPathIds()</tspan><tspan x="3947" dy="14.7">+ insertNode()</tspan><tspan x="3947" dy="14.7">+ deleteTree()</tspan><tspan x="3947" dy="14.7">+ moveToTrash()</tspan><tspan x="3947" dy="14.7">+ moveTree()</tspan><tspan x="3947" dy="14.7">+ getSubtreeInfo()</tspan><tspan x="3947" dy="14.7">+ validateParentRelations()</tspan></text></g>

<g id="AdministrationSetting" class="n"><rect x="4782" y="41" width="141" height="183"/><path d="M4782,80.4 h141 M4782,98.4 h141"/><text class="c" x="4852.5" y="55"><tspan x="4852.5" dy="0">ILIAS\Administration</tspan><tspan x="4852.5" dy="14.7">\Setting</tspan></text><text x="4788" y="111.4"><tspan x="4788" dy="0">+ getModule()</tspan><tspan x="4788" dy="14.7">+ read()</tspan><tspan x="4788" dy="14.7">+ get()</tspan><tspan x="4788" dy="14.7">+ deleteAll()</tspan><tspan x="4788" dy="14.7">+ delete()</tspan><tspan x="4788" dy="14.7">+ getAll()</tspan><tspan x="4788" dy="14.7">+ set()</tspan><tspan x="4788" dy="14.7">+ _lookupValue()</tspan></text></g>

<g id="ilSetting" class="n"><rect x="4923" y="387" width="153" height="256.5"/><path d="M4923,411.7 h153 M4923,429.7 h153"/><text class="c" x="4999.5" y="401">ilSetting</text><text x="4929" y="442.7"><tspan x="4929" dy="0">+ __construct()</tspan><tspan x="4929" dy="14.7">+ getModule()</tspan><tspan x="4929" dy="14.7">+ read()</tspan><tspan x="4929" dy="14.7">+ get()</tspan><tspan x="4929" dy="14.7">+ deleteAll()</tspan><tspan x="4929" dy="14.7">+ deleteLike()</tspan><tspan x="4929" dy="14.7">+ delete()</tspan><tspan x="4929" dy="14.7">+ getAll()</tspan><tspan x="4929" dy="14.7">+ set()</tspan><tspan x="4929" dy="14.7">+ setScormDebug()</tspan><tspan x="4929" dy="14.7">+ _lookupValue()</tspan><tspan x="4929" dy="14.7">+ _getValueType()</tspan><tspan x="4929" dy="14.7">+ _changeValueType()</tspan><tspan x="4929" dy="14.7">+ _getLongerSettings()</tspan></text></g>

<g id="ErrorHandling" class="n"><rect x="5203" y="365" width="204" height="300.6"/><path d="M5203,389.7 h204 M5203,407.7 h204"/><text class="c" x="5305" y="379">ErrorHandling</text><text x="5209" y="420.7"><tspan x="5209" dy="0">+ __construct()</tspan><tspan x="5209" dy="14.7">+ getHandler()</tspan><tspan x="5209" dy="14.7">+ raiseError()</tspan><tspan x="5209" dy="14.7">+ getMessage()</tspan><tspan x="5209" dy="14.7">+ setMessage()</tspan><tspan x="5209" dy="14.7">+ appendMessage()</tspan><tspan x="5209" dy="14.7">+ handlePreWhoops()</tspan><tspan x="5209" dy="14.7"># initWhoopsHandlers()</tspan><tspan x="5209" dy="14.7"># getIlRuntime()</tspan><tspan x="5209" dy="14.7"># getWhoops()</tspan><tspan x="5209" dy="14.7"># isDevmodeActive()</tspan><tspan x="5209" dy="14.7"># defaultHandler()</tspan><tspan x="5209" dy="14.7"># devmodeHandler()</tspan><tspan x="5209" dy="14.7"># addEditorSupport()</tspan><tspan x="5209" dy="14.7"># applyEditorPathTranslations()</tspan><tspan x="5209" dy="14.7"># parseEditorPathTranslation()</tspan><tspan x="5209" dy="14.7">- errorHandler()</tspan></text></g>

<g id="ComponentRepository" class="n"><rect x="5987" y="395" width="230" height="241.8"/><path d="M5987,419.7 h230 M5987,437.7 h230"/><text class="c" x="6102" y="409">ComponentRepository</text><text x="5993" y="450.7"><tspan x="5993" dy="0">+ hasComponent()</tspan><tspan x="5993" dy="14.7">+ hasComponentId()</tspan><tspan x="5993" dy="14.7">+ getComponents()</tspan><tspan x="5993" dy="14.7">+ getComponentById()</tspan><tspan x="5993" dy="14.7">+ getComponentByTypeAndName()</tspan><tspan x="5993" dy="14.7">+ hasPluginSlotId()</tspan><tspan x="5993" dy="14.7">+ getPluginSlots()</tspan><tspan x="5993" dy="14.7">+ getPluginSlotById()</tspan><tspan x="5993" dy="14.7">+ hasPluginId()</tspan><tspan x="5993" dy="14.7">+ getPlugins()</tspan><tspan x="5993" dy="14.7">+ getPluginById()</tspan><tspan x="5993" dy="14.7">+ getPluginByName()</tspan><tspan x="5993" dy="14.7">+ hasActivatedPlugin()</tspan></text></g>

<g id="ilCronDeleteInactiveUserReminderMail" class="n"><rect x="6670" y="702" width="211" height="183"/><path d="M6670,741.4 h211 M6670,759.4 h211"/><text class="c" x="6775.5" y="716"><tspan x="6775.5" dy="0">ilCronDeleteInactiveUser</tspan><tspan x="6775.5" dy="14.7">ReminderMail</tspan></text><text x="6676" y="772.4"><tspan x="6676" dy="0">+ __construct()</tspan><tspan x="6676" dy="14.7">+ removeEntriesFromTableIf</tspan><tspan x="6676" dy="14.7">LastLoginIsNewer()</tspan><tspan x="6676" dy="14.7">+ sendReminderMailIfNeeded()</tspan><tspan x="6676" dy="14.7">+ flushDataTable()</tspan><tspan x="6676" dy="14.7">+ removeSingleUserFromTable()</tspan><tspan x="6676" dy="14.7">- persistMailSend()</tspan><tspan x="6676" dy="14.7">- sendReminder()</tspan></text></g>

<g id="ilObjectDefinition" class="n"><rect x="5104" y="972" width="219" height="344.7"/><path d="M5104,996.7 h219 M5104,1014.7 h219"/><text class="c" x="5213.5" y="986">ilObjectDefinition</text><text x="5110" y="1027.7"><tspan x="5110" dy="0">+ __construct()</tspan><tspan x="5110" dy="14.7">+ readDefinitionData()</tspan><tspan x="5110" dy="14.7">+ getClassName()</tspan><tspan x="5110" dy="14.7">+ getLocation()</tspan><tspan x="5110" dy="14.7">+ getGroup()</tspan><tspan x="5110" dy="14.7">+ getGroupOfObj()</tspan><tspan x="5110" dy="14.7">+ hasCheckbox()</tspan><tspan x="5110" dy="14.7">+ getTranslationType()</tspan><tspan x="5110" dy="14.7">+ stopInheritance()</tspan><tspan x="5110" dy="14.7">+ getDevMode()</tspan><tspan x="5110" dy="14.7">and 38 more...</tspan><tspan x="5110" dy="14.7">+ getRepositoryObjectTypes</tspan><tspan x="5110" dy="14.7">ForComponent()</tspan><tspan x="5110" dy="14.7">+ getComponentForType()</tspan><tspan x="5110" dy="14.7">+ getGroupedRepositoryObject</tspan><tspan x="5110" dy="14.7">Types()</tspan><tspan x="5110" dy="14.7"># readPluginData()</tspan><tspan x="5110" dy="14.7"># parsePluginData()</tspan><tspan x="5110" dy="14.7"># getGroupedPluginObjectTypes()</tspan></text></g>

<g id="ILIAS" class="n"><rect x="4912" y="1023" width="140" height="231.8"/><path d="M4912,1047.7 h140 M4912,1129.2 h140"/><text class="c" x="4982" y="1037">ILIAS</text><text x="4918" y="1060.7"><tspan x="4918" dy="0">+ $account</tspan><tspan x="4918" dy="14.7">+ $ini</tspan><tspan x="4918" dy="14.7">+ $ini_ilias</tspan><tspan x="4918" dy="14.7">+ $db</tspan><tspan x="4918" dy="14.7">+ $error_obj</tspan></text><text x="4918" y="1142.2"><tspan x="4918" dy="0">+ __construct()</tspan><tspan x="4918" dy="14.7">+ getSetting()</tspan><tspan x="4918" dy="14.7">+ deleteSetting()</tspan><tspan x="4918" dy="14.7">+ getAllSettings()</tspan><tspan x="4918" dy="14.7">+ setSetting()</tspan><tspan x="4918" dy="14.7">+ getClientId()</tspan><tspan x="4918" dy="14.7">+ raiseError()</tspan><tspan x="4918" dy="14.7"># getSettingObject()</tspan></text></g>

<g id="ilRbacAdmin" class="n"><rect x="1717" y="1596" width="190" height="241.8"/><path d="M1717,1620.7 h190 M1717,1638.7 h190"/><text class="c" x="1812" y="1610">ilRbacAdmin</text><text x="1723" y="1651.7"><tspan x="1723" dy="0">+ __construct()</tspan><tspan x="1723" dy="14.7">+ setBlockedStatus()</tspan><tspan x="1723" dy="14.7">+ removeUser()</tspan><tspan x="1723" dy="14.7">+ deleteRole()</tspan><tspan x="1723" dy="14.7">+ deleteTemplate()</tspan><tspan x="1723" dy="14.7">+ deleteLocalRole()</tspan><tspan x="1723" dy="14.7">+ assignUserLimited()</tspan><tspan x="1723" dy="14.7">+ assignUser()</tspan><tspan x="1723" dy="14.7">+ deassignUser()</tspan><tspan x="1723" dy="14.7">+ grantPermission()</tspan><tspan x="1723" dy="14.7">and 18 more...</tspan><tspan x="1723" dy="14.7"># applyMovedObjectDidactic</tspan><tspan x="1723" dy="14.7">Templates()</tspan></text></g>

<g id="Filesystems" class="n"><rect x="2395" y="1648" width="198" height="138.9"/><path d="M2395,1672.7 h198 M2395,1690.7 h198"/><text class="c" x="2494" y="1662">ILIAS\Filesystem\Filesystems</text><text x="2401" y="1703.7"><tspan x="2401" dy="0">+ web()</tspan><tspan x="2401" dy="14.7">+ storage()</tspan><tspan x="2401" dy="14.7">+ temp()</tspan><tspan x="2401" dy="14.7">+ customizing()</tspan><tspan x="2401" dy="14.7">+ libs()</tspan><tspan x="2401" dy="14.7">+ nodeModules()</tspan></text></g>

<g id="ilXmlImporter" class="n"><rect x="2782" y="1611" width="154" height="212.4"/><path d="M2782,1635.7 h154 M2782,1653.7 h154"/><text class="c" x="2859" y="1625">ilXmlImporter</text><text x="2788" y="1666.7"><tspan x="2788" dy="0">+ __construct()</tspan><tspan x="2788" dy="14.7">+ setImport()</tspan><tspan x="2788" dy="14.7">+ getImport()</tspan><tspan x="2788" dy="14.7">+ init()</tspan><tspan x="2788" dy="14.7">+ setInstallId()</tspan><tspan x="2788" dy="14.7">+ getInstallId()</tspan><tspan x="2788" dy="14.7">+ setInstallUrl()</tspan><tspan x="2788" dy="14.7">+ getInstallUrl()</tspan><tspan x="2788" dy="14.7">+ setSchemaVersion()</tspan><tspan x="2788" dy="14.7">+ getSchemaVersion()</tspan><tspan x="2788" dy="14.7">and 8 more...</tspan></text></g>

<g id="Archives" class="n"><rect x="3011" y="1632" width="154" height="168.3"/><path d="M3011,1671.4 h154 M3011,1689.4 h154"/><text class="c" x="3088" y="1646"><tspan x="3088" dy="0">ILIAS\Filesystem\Util</tspan><tspan x="3088" dy="14.7">\Archive\Archives</tspan></text><text x="3017" y="1702.4"><tspan x="3017" dy="0">+ __construct()</tspan><tspan x="3017" dy="14.7">+ zip()</tspan><tspan x="3017" dy="14.7">+ unzip()</tspan><tspan x="3017" dy="14.7">+ unzipOptions()</tspan><tspan x="3017" dy="14.7">+ zipOptions()</tspan><tspan x="3017" dy="14.7"># mergeZipOptions()</tspan><tspan x="3017" dy="14.7"># mergeUnzipOptions()</tspan></text></g>

<g id="LanguageLanguage" class="n"><rect x="3543" y="1661" width="173" height="109.5"/><path d="M3543,1685.7 h173 M3543,1703.7 h173"/><text class="c" x="3629.5" y="1675">ILIAS\Language\Language</text><text x="3549" y="1716.7"><tspan x="3549" dy="0">+ txt()</tspan><tspan x="3549" dy="14.7">+ loadLanguageModule()</tspan><tspan x="3549" dy="14.7">+ getLangKey()</tspan><tspan x="3549" dy="14.7">+ toJS()</tspan></text></g>

<g id="Properties" class="n"><rect x="2164" y="2036" width="234" height="256.5"/><path d="M2164,2075.4 h234 M2164,2093.4 h234"/><text class="c" x="2281" y="2050"><tspan x="2281" dy="0">ILIAS\ILIASObject\Properties</tspan><tspan x="2281" dy="14.7">\Properties</tspan></text><text x="2170" y="2106.4"><tspan x="2170" dy="0">+ __construct()</tspan><tspan x="2170" dy="14.7">+ storeCoreProperties()</tspan><tspan x="2170" dy="14.7">+ getOwner()</tspan><tspan x="2170" dy="14.7">+ withOwner()</tspan><tspan x="2170" dy="14.7">+ getImportId()</tspan><tspan x="2170" dy="14.7">+ withImportId()</tspan><tspan x="2170" dy="14.7">+ getPropertyTitleAndDescription()</tspan><tspan x="2170" dy="14.7">+ withPropertyTitleAndDescription()</tspan><tspan x="2170" dy="14.7">+ storePropertyTitleAndDescription()</tspan><tspan x="2170" dy="14.7">+ getPropertyIsOnline()</tspan><tspan x="2170" dy="14.7">and 16 more...</tspan><tspan x="2170" dy="14.7">- updateMetadataForTitleAnd</tspan><tspan x="2170" dy="14.7">Description()</tspan></text></g>

<g id="Aggregator" class="n"><rect x="2424" y="2108" width="192" height="109.5"/><path d="M2424,2147.4 h192 M2424,2165.4 h192"/><text class="c" x="2520" y="2122"><tspan x="2520" dy="0">ILIAS\ILIASObject\Properties</tspan><tspan x="2520" dy="14.7">\Aggregator</tspan></text><text x="2430" y="2178.4"><tspan x="2430" dy="0">+ __construct()</tspan><tspan x="2430" dy="14.7">+ getFor()</tspan><tspan x="2430" dy="14.7">+ preload()</tspan></text></g>

<g id="ilImport" class="n"><rect x="2692" y="2021" width="175" height="285.9"/><path d="M2692,2045.7 h175 M2692,2063.7 h175"/><text class="c" x="2779.5" y="2035">ilImport</text><text x="2698" y="2076.7"><tspan x="2698" dy="0">+ __construct()</tspan><tspan x="2698" dy="14.7">+ getConfig()</tspan><tspan x="2698" dy="14.7">+ getMapping()</tspan><tspan x="2698" dy="14.7">+ setEntityTypes()</tspan><tspan x="2698" dy="14.7">+ getEntityTypes()</tspan><tspan x="2698" dy="14.7">+ addSkipEntity()</tspan><tspan x="2698" dy="14.7">+ addSkipImporter()</tspan><tspan x="2698" dy="14.7">+ importEntity()</tspan><tspan x="2698" dy="14.7">+ importObject()</tspan><tspan x="2698" dy="14.7">+ importFromDirectory()</tspan><tspan x="2698" dy="14.7">+ getTemporaryImportDir()</tspan><tspan x="2698" dy="14.7">+ processItemXml()</tspan><tspan x="2698" dy="14.7"># validateXMLFiles()</tspan><tspan x="2698" dy="14.7"># checkStatuses()</tspan><tspan x="2698" dy="14.7"># setTemporaryImportDir()</tspan><tspan x="2698" dy="14.7"># doImportObject()</tspan></text></g>

<g id="ilObject" class="n"><rect x="3482" y="2396" width="225" height="609.3"/><path d="M3482,2420.7 h225 M3482,2438.7 h225"/><text class="c" x="3594.5" y="2410">ilObject</text><text x="3488" y="2451.7"><tspan x="3488" dy="0">+ getObjectProperties()</tspan><tspan x="3488" dy="14.7">+ flushObjectProperties()</tspan><tspan x="3488" dy="14.7">+ withReferences()</tspan><tspan x="3488" dy="14.7">+ processAutoRating()</tspan><tspan x="3488" dy="14.7">+ read()</tspan><tspan x="3488" dy="14.7">+ getId()</tspan><tspan x="3488" dy="14.7">+ setId()</tspan><tspan x="3488" dy="14.7">+ setRefId()</tspan><tspan x="3488" dy="14.7">+ getRefId()</tspan><tspan x="3488" dy="14.7">+ getType()</tspan><tspan x="3488" dy="14.7">and 40 more...</tspan><tspan x="3488" dy="14.7">+ _lookupObjIdByImportId()</tspan><tspan x="3488" dy="14.7">+ _lookupImportId()</tspan><tspan x="3488" dy="14.7">+ _lookupOwnerName()</tspan><tspan x="3488" dy="14.7">+ _getIdForImportId()</tspan><tspan x="3488" dy="14.7">+ _getAllReferences()</tspan><tspan x="3488" dy="14.7">+ _lookupTitle()</tspan><tspan x="3488" dy="14.7">+ lookupOfflineStatus()</tspan><tspan x="3488" dy="14.7">+ _lookupOwner()</tspan><tspan x="3488" dy="14.7">+ _getIdsForTitle()</tspan><tspan x="3488" dy="14.7">+ _lookupDescription()</tspan><tspan x="3488" dy="14.7">and 27 more...</tspan><tspan x="3488" dy="14.7"># doMDUpdateListener()</tspan><tspan x="3488" dy="14.7"># beforeMDUpdateListener()</tspan><tspan x="3488" dy="14.7"># doCreateMetaData()</tspan><tspan x="3488" dy="14.7"># beforeCreateMetaData()</tspan><tspan x="3488" dy="14.7"># doUpdateMetaData()</tspan><tspan x="3488" dy="14.7"># beforeUpdateMetaData()</tspan><tspan x="3488" dy="14.7"># doDeleteMetaData()</tspan><tspan x="3488" dy="14.7"># beforeDeleteMetaData()</tspan><tspan x="3488" dy="14.7"># handleAutoRating()</tspan><tspan x="3488" dy="14.7"># hasAutoRating()</tspan><tspan x="3488" dy="14.7">- appendCopyInfoToTranslations()</tspan><tspan x="3488" dy="14.7">- getCallbackForTitlesPerLanguage</tspan><tspan x="3488" dy="14.7">Transformation()</tspan><tspan x="3488" dy="14.7">- appendNumberOfCopiesToTitle()</tspan><tspan x="3488" dy="14.7">- isTitleUnique()</tspan><tspan x="3488" dy="14.7">- buildTitleWithoutCopySuffix()</tspan></text></g>

<g id="ilTree" class="n"><rect x="3791" y="1530" width="224" height="378.8"/><path d="M3791,1554.7 h224 M3791,1577.4 h224"/><text class="c" x="3903" y="1544">ilTree</text><text x="3797" y="1567.7"># DEFAULT_GAP</text><text x="3797" y="1590.4"><tspan x="3797" dy="0">+ __construct()</tspan><tspan x="3797" dy="14.7">+ initTreeImplementation()</tspan><tspan x="3797" dy="14.7">+ getTreeImplementation()</tspan><tspan x="3797" dy="14.7">+ useCache()</tspan><tspan x="3797" dy="14.7">+ getDepthCache()</tspan><tspan x="3797" dy="14.7">+ getParentCache()</tspan><tspan x="3797" dy="14.7">+ initLangCode()</tspan><tspan x="3797" dy="14.7">+ getTreeTable()</tspan><tspan x="3797" dy="14.7">+ getObjectDataTable()</tspan><tspan x="3797" dy="14.7">+ getTreePk()</tspan><tspan x="3797" dy="14.7">and 60 more...</tspan><tspan x="3797" dy="14.7">+ lookupTreesForNode()</tspan><tspan x="3797" dy="14.7">+ _removeEntry()</tspan><tspan x="3797" dy="14.7"># isCacheUsed()</tspan><tspan x="3797" dy="14.7"># resetInTreeCache()</tspan><tspan x="3797" dy="14.7"># fetchTranslationFromObject</tspan><tspan x="3797" dy="14.7">DataCache()</tspan><tspan x="3797" dy="14.7"># __renumber()</tspan><tspan x="3797" dy="14.7"># __checkDelete()</tspan><tspan x="3797" dy="14.7"># __getSubTreeByParentRelation()</tspan><tspan x="3797" dy="14.7"># __validateSubtrees()</tspan><tspan x="3797" dy="14.7"># isRepositoryTree()</tspan></text></g>

<g id="ilCachedLanguage" class="n"><rect x="4643" y="1574" width="137" height="285.9"/><path d="M4643,1598.7 h137 M4643,1616.7 h137"/><text class="c" x="4711.5" y="1588">ilCachedLanguage</text><text x="4649" y="1629.7"><tspan x="4649" dy="0">+ getContainerKey()</tspan><tspan x="4649" dy="14.7">+ isForced()</tspan><tspan x="4649" dy="14.7">+ isActive()</tspan><tspan x="4649" dy="14.7">+ writeToCache()</tspan><tspan x="4649" dy="14.7">+ deleteInCache()</tspan><tspan x="4649" dy="14.7">+ flush()</tspan><tspan x="4649" dy="14.7">+ setLanguageKey()</tspan><tspan x="4649" dy="14.7">+ getLanguageKey()</tspan><tspan x="4649" dy="14.7">+ setLoaded()</tspan><tspan x="4649" dy="14.7">+ getLoaded()</tspan><tspan x="4649" dy="14.7">+ setTranslations()</tspan><tspan x="4649" dy="14.7">+ getTranslations()</tspan><tspan x="4649" dy="14.7">+ getInstance()</tspan><tspan x="4649" dy="14.7"># __construct()</tspan><tspan x="4649" dy="14.7"># readFromCache()</tspan><tspan x="4649" dy="14.7"># readFromDB()</tspan></text></g>

<g id="ilLanguage" class="n"><rect x="4610" y="2007" width="178" height="315.3"/><path d="M4610,2031.7 h178 M4610,2049.7 h178"/><text class="c" x="4699" y="2021">ilLanguage</text><text x="4616" y="2062.7"><tspan x="4616" dy="0">+ __construct()</tspan><tspan x="4616" dy="14.7">+ getLangKey()</tspan><tspan x="4616" dy="14.7">+ getDefaultLanguage()</tspan><tspan x="4616" dy="14.7">+ getTextDirection()</tspan><tspan x="4616" dy="14.7">+ getContentLanguage()</tspan><tspan x="4616" dy="14.7">+ txtlng()</tspan><tspan x="4616" dy="14.7">+ txt()</tspan><tspan x="4616" dy="14.7">+ exists()</tspan><tspan x="4616" dy="14.7">+ loadLanguageModule()</tspan><tspan x="4616" dy="14.7">+ getInstalledLanguages()</tspan><tspan x="4616" dy="14.7">and 7 more...</tspan><tspan x="4616" dy="14.7">+ _getInstalledLanguages()</tspan><tspan x="4616" dy="14.7">+ _lookupEntry()</tspan><tspan x="4616" dy="14.7">+ lookupId()</tspan><tspan x="4616" dy="14.7">+ getFallbackInstance()</tspan><tspan x="4616" dy="14.7">+ getGlobalInstance()</tspan><tspan x="4616" dy="14.7"># logUsage()</tspan><tspan x="4616" dy="14.7"># isUsageLogEnabled()</tspan></text></g>

<g id="ilObjUser" class="n"><rect x="4957" y="3079" width="202" height="761"/><path d="M4957,3103.7 h202 M4957,3435.1 h202"/><text class="c" x="5058" y="3093">ilObjUser</text><text x="4963" y="3116.7"><tspan x="4963" dy="0">+ $login</tspan><tspan x="4963" dy="14.7">+ $gender</tspan><tspan x="4963" dy="14.7">+ $utitle</tspan><tspan x="4963" dy="14.7">+ $firstname</tspan><tspan x="4963" dy="14.7">+ $lastname</tspan><tspan x="4963" dy="14.7">+ $fullname</tspan><tspan x="4963" dy="14.7">+ $department</tspan><tspan x="4963" dy="14.7">+ $street</tspan><tspan x="4963" dy="14.7">+ $city</tspan><tspan x="4963" dy="14.7">+ $country</tspan><tspan x="4963" dy="14.7">and 12 more...</tspan><tspan x="4963" dy="14.7"># $time_limit_message</tspan><tspan x="4963" dy="14.7"># $last_login</tspan><tspan x="4963" dy="14.7"># $passwd</tspan><tspan x="4963" dy="14.7"># $password_encoding_type</tspan><tspan x="4963" dy="14.7"># $password_salt</tspan><tspan x="4963" dy="14.7"># $birthday</tspan><tspan x="4963" dy="14.7"># $second_email</tspan><tspan x="4963" dy="14.7"># $inactivation_date</tspan><tspan x="4963" dy="14.7"># $org_units</tspan><tspan x="4963" dy="14.7"># $last_profile_prompt</tspan><tspan x="4963" dy="14.7"># $avatar_rid</tspan></text><text x="4963" y="3448.1"><tspan x="4963" dy="0">+ __construct()</tspan><tspan x="4963" dy="14.7">+ read()</tspan><tspan x="4963" dy="14.7">+ getPasswordEncodingType()</tspan><tspan x="4963" dy="14.7">+ setPasswordEncodingType()</tspan><tspan x="4963" dy="14.7">+ getPasswordSalt()</tspan><tspan x="4963" dy="14.7">+ setPasswordSalt()</tspan><tspan x="4963" dy="14.7">+ assignData()</tspan><tspan x="4963" dy="14.7">+ saveAsNew()</tspan><tspan x="4963" dy="14.7">+ update()</tspan><tspan x="4963" dy="14.7">+ writeAccepted()</tspan><tspan x="4963" dy="14.7">and 169 more...</tspan><tspan x="4963" dy="14.7">+ _lookupFullname()</tspan><tspan x="4963" dy="14.7">+ _lookupEmail()</tspan><tspan x="4963" dy="14.7">+ _lookupGender()</tspan><tspan x="4963" dy="14.7">+ _lookupClientIP()</tspan><tspan x="4963" dy="14.7">+ _lookupName()</tspan><tspan x="4963" dy="14.7">+ _lookupFields()</tspan><tspan x="4963" dy="14.7">+ _lookupLogin()</tspan><tspan x="4963" dy="14.7">+ _lookupExternalAccount()</tspan><tspan x="4963" dy="14.7">+ _lookupId()</tspan><tspan x="4963" dy="14.7">+ _lookupLastLogin()</tspan><tspan x="4963" dy="14.7">and 62 more...</tspan><tspan x="4963" dy="14.7"># buildTextFromArray()</tspan><tspan x="4963" dy="14.7"># readMultiTextFields()</tspan><tspan x="4963" dy="14.7"># deleteMultiTextFields()</tspan><tspan x="4963" dy="14.7">- _lookup()</tspan><tspan x="4963" dy="14.7">- getLoginFromAuth()</tspan></text></g>

<g id="ilWebLinkRepository" class="n"><rect x="1500" y="3314" width="223" height="285.9"/><path d="M1500,3338.7 h223 M1500,3356.7 h223"/><text class="c" x="1611.5" y="3328">ilWebLinkRepository</text><text x="1506" y="3369.7"><tspan x="1506" dy="0">+ createItem()</tspan><tspan x="1506" dy="14.7">+ createList()</tspan><tspan x="1506" dy="14.7">+ createAllItemsInDraftContainer()</tspan><tspan x="1506" dy="14.7">+ getAllItemsAsContainer()</tspan><tspan x="1506" dy="14.7">+ getItemByLinkId()</tspan><tspan x="1506" dy="14.7">+ doesOnlyOneItemExist()</tspan><tspan x="1506" dy="14.7">+ getParameterinItemByParamId()</tspan><tspan x="1506" dy="14.7">+ getList()</tspan><tspan x="1506" dy="14.7">+ doesListExist()</tspan><tspan x="1506" dy="14.7">+ updateItem()</tspan><tspan x="1506" dy="14.7">+ updateList()</tspan><tspan x="1506" dy="14.7">+ deleteAllItems()</tspan><tspan x="1506" dy="14.7">+ deleteItemByLinkID()</tspan><tspan x="1506" dy="14.7">+ deleteParameterByLinkIdAnd</tspan><tspan x="1506" dy="14.7">ParamId()</tspan><tspan x="1506" dy="14.7">+ deleteList()</tspan></text></g>

<g id="ilWebLinkDatabaseRepository" class="n"><rect x="1500" y="3908" width="223" height="300.6"/><path d="M1500,3932.7 h223 M1500,3950.7 h223"/><text class="c" x="1611.5" y="3922">ilWebLinkDatabaseRepository</text><text x="1506" y="3963.7"><tspan x="1506" dy="0">+ __construct()</tspan><tspan x="1506" dy="14.7">+ createItem()</tspan><tspan x="1506" dy="14.7">+ createList()</tspan><tspan x="1506" dy="14.7">+ createAllItemsInDraftContainer()</tspan><tspan x="1506" dy="14.7">+ getAllItemsAsContainer()</tspan><tspan x="1506" dy="14.7">+ getItemByLinkId()</tspan><tspan x="1506" dy="14.7">+ doesOnlyOneItemExist()</tspan><tspan x="1506" dy="14.7">+ getParameterinItemByParamId()</tspan><tspan x="1506" dy="14.7">+ getList()</tspan><tspan x="1506" dy="14.7">+ doesListExist()</tspan><tspan x="1506" dy="14.7">and 7 more...</tspan><tspan x="1506" dy="14.7"># getParametersByLinkId()</tspan><tspan x="1506" dy="14.7"># validateParameter()</tspan><tspan x="1506" dy="14.7"># validateInternalItemTarget()</tspan><tspan x="1506" dy="14.7"># isInternalLink()</tspan><tspan x="1506" dy="14.7"># getCurrentTime()</tspan><tspan x="1506" dy="14.7"># getNewDateTimeImmutable()</tspan></text></g>

<g id="ilObjLinkResource" class="n"><rect x="1529" y="4282" width="165" height="168.3"/><path d="M1529,4306.7 h165 M1529,4324.7 h165"/><text class="c" x="1611.5" y="4296">ilObjLinkResource</text><text x="1535" y="4337.7"><tspan x="1535" dy="0">+ __construct()</tspan><tspan x="1535" dy="14.7">+ create()</tspan><tspan x="1535" dy="14.7">+ update()</tspan><tspan x="1535" dy="14.7">+ delete()</tspan><tspan x="1535" dy="14.7">+ cloneObject()</tspan><tspan x="1535" dy="14.7">+ toXML()</tspan><tspan x="1535" dy="14.7"># getWebLinkRepo()</tspan><tspan x="1535" dy="14.7"># doMDUpdateListener()</tspan></text></g>

<g id="ilWebResourceImporter" class="n hl"><rect x="1517" y="4525" width="189" height="94.8"/><path d="M1517,4549.7 h189 M1517,4567.7 h189"/><text class="c" x="1611.5" y="4539">ilWebResourceImporter</text><text x="1523" y="4580.7"><tspan x="1523" dy="0">+ __construct()</tspan><tspan x="1523" dy="14.7">+ importXmlRepresentation()</tspan></text></g>
</svg>
